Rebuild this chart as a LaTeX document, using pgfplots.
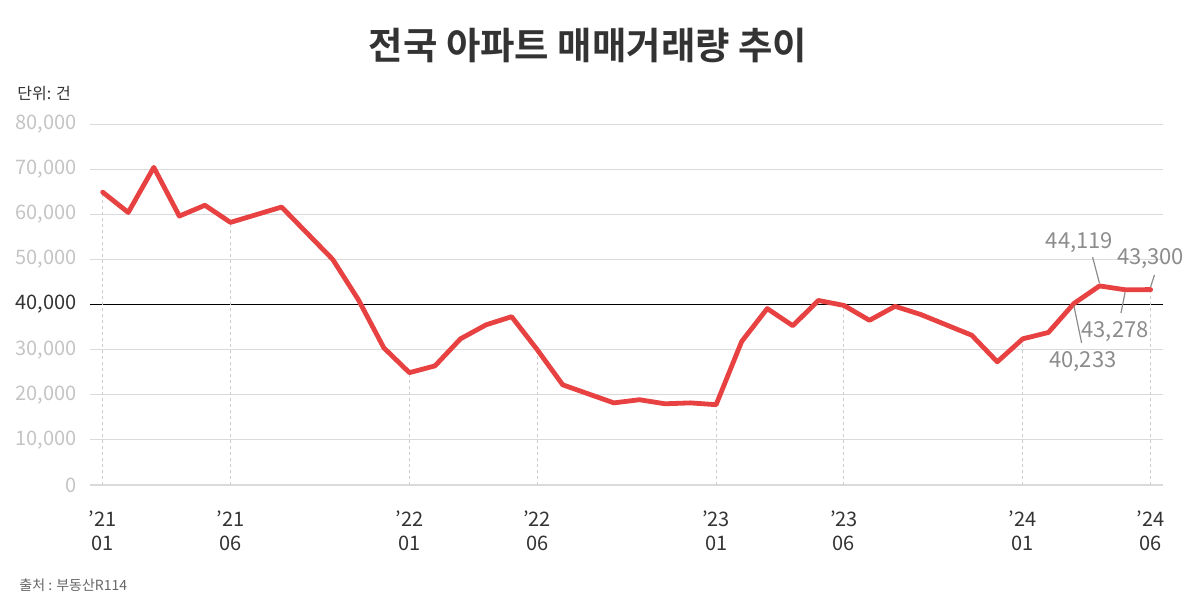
\documentclass[border=0pt]{standalone}
\usepackage{fontspec}
\setmainfont{Noto Sans CJK KR}[BoldFont={Noto Sans CJK KR Bold}]
\usepackage{pgfplots}
\pgfplotsset{compat=1.18}
\definecolor{linered}{HTML}{E84142}
\definecolor{gridgray}{HTML}{DADADA}
\definecolor{ticklab}{HTML}{C4C4C4}
\definecolor{darktext}{HTML}{333333}
\definecolor{annot}{HTML}{8C8C8C}
\definecolor{dashgray}{HTML}{CCCCCC}

\begin{document}
\begin{tikzpicture}
\path[use as bounding box] (0,0) rectangle (600pt,-303.5pt);
\node[font=\fontsize{18.7}{21}\selectfont\bfseries, text=darktext] at (294pt,-22.5pt) {전국 아파트 매매거래량 추이};
\node[anchor=west, inner sep=0pt, font=\fontsize{8}{10}\selectfont, text=darktext] at (8.5pt,-46.5pt) {단위: 건};
\node[anchor=west, inner sep=0pt, font=\fontsize{7}{9}\selectfont, text=black!60] at (9.5pt,-292.5pt) {출처 : 부동산R114};

\begin{axis}[
  at={(44.95pt,-242.5pt)}, anchor=south west,
  scale only axis, width=536.75pt, height=180.5pt,
  xmin=-0.5, xmax=41.5, ymin=0, ymax=80000,
  clip=false,
  axis x line*=bottom, axis y line*=left,
  x axis line style={draw=gridgray, line width=0.6pt, -},
  y axis line style={draw=none},
  major tick length=0pt,
  xtick={0,5,12,17,24,29,36,41},
  xticklabels={’21\\01,’21\\06,’22\\01,’22\\06,’23\\01,’23\\06,’24\\01,’24\\06},
  xticklabel style={align=center, font=\fontsize{10}{12}\selectfont, text=darktext, yshift=-9.5pt},
  ytick={0,10000,20000,30000,50000,60000,70000,80000},
  extra y ticks={40000},
  extra y tick labels={\textcolor{darktext}{40,000}},
  extra y tick style={grid=major, major grid style={draw=black, line width=0.6pt}},
  scaled y ticks=false,
  yticklabel style={font=\fontsize{10}{12}\selectfont, text=ticklab, anchor=east, inner sep=0pt, xshift=-6.5pt},
  ymajorgrids, major grid style={draw=gridgray, line width=0.5pt},
  /pgf/number format/.cd, 1000 sep={,}, assume math mode=true,
]
% dashed guides at the labelled months
\addplot[ycomb, draw=dashgray, dash pattern=on 1.5pt off 1.5pt, line width=0.5pt, forget plot]
  coordinates {(0,64900) (5,58200) (12,24900) (17,30000) (24,17800) (29,39800) (36,32400) (41,43300)};

\addplot[linered, line width=2.4pt, line join=round, line cap=round] coordinates {
  (0,64900) (1,60400) (2,70400) (3,59600) (4,62000) (5,58200)
  (6,59900) (7,61600) (8,55800) (9,50000) (10,41100) (11,30400)
  (12,24900) (13,26400) (14,32400) (15,35500) (16,37300) (17,30000)
  (18,22200) (19,20200) (20,18200) (21,18900) (22,18000) (23,18200)
  (24,17800) (25,31800) (26,39100) (27,35300) (28,40900) (29,39800)
  (30,36500) (31,39600) (32,37800) (33,35500) (34,33200) (35,27300)
  (36,32400) (37,33800) (38,40233) (39,44119) (40,43278) (41,43300)
};

\draw[annot, line width=0.6pt] (axis cs:38.0,39700) -- (axis cs:38.3,31500);
\node[text=annot, font=\fontsize{11}{13}\selectfont] at (axis cs:38.35,27270) {40,233};
\draw[annot, line width=0.6pt] (axis cs:39,44700) -- (axis cs:38.73,50500);
\node[text=annot, font=\fontsize{11}{13}\selectfont] at (axis cs:38.22,53650) {44,119};
\draw[annot, line width=0.6pt] (axis cs:40,42700) -- (axis cs:39.84,38100);
\node[text=annot, font=\fontsize{11}{13}\selectfont] at (axis cs:39.61,33920) {43,278};
\draw[annot, line width=0.6pt] (axis cs:41,43900) -- (axis cs:41.15,46560);
\node[text=annot, font=\fontsize{11}{13}\selectfont] at (axis cs:41.0,50100) {43,300};
\end{axis}
\end{tikzpicture}
\end{document}
